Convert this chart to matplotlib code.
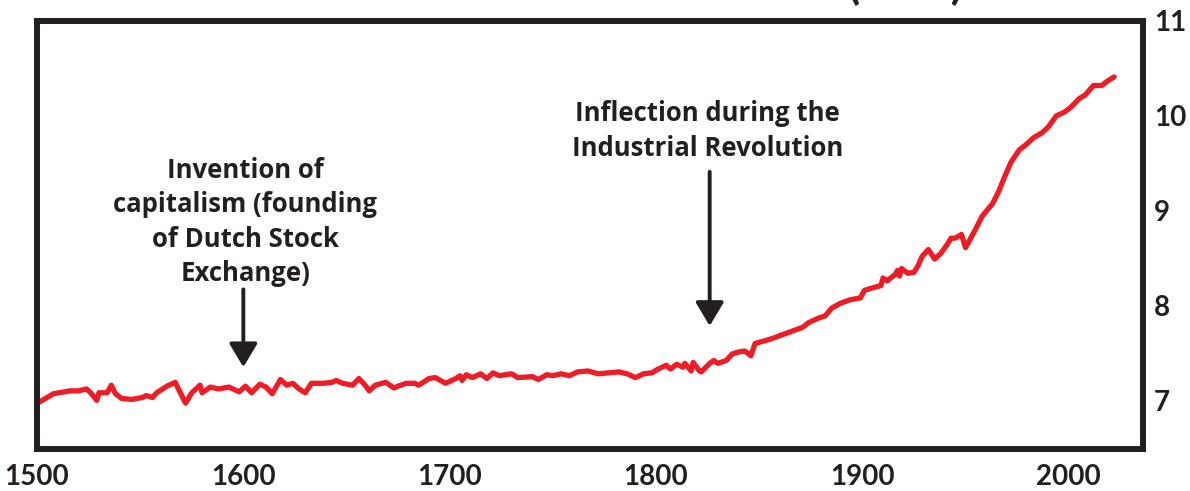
import matplotlib
matplotlib.use("Agg")
import matplotlib.pyplot as plt

# values (log scale series)
years = [1501, 1508, 1516, 1520, 1524, 1526, 1529, 1530, 1534, 1536, 1538, 1541,
         1546, 1551, 1553, 1556, 1558, 1563, 1567, 1569, 1572, 1575, 1579, 1580,
         1584, 1588, 1593, 1598, 1601, 1604, 1608, 1611, 1614, 1618, 1621, 1624,
         1627, 1630, 1633, 1637, 1639, 1643, 1645, 1648, 1653, 1656, 1659, 1661,
         1664, 1669, 1673, 1675, 1679, 1683, 1685, 1690, 1693, 1698, 1703, 1705,
         1706, 1708, 1711, 1715, 1718, 1721, 1724, 1730, 1733, 1740, 1743, 1747,
         1750, 1754, 1758, 1762, 1767, 1772, 1777, 1782, 1786, 1790, 1794, 1798,
         1801, 1805, 1807, 1810, 1813, 1814, 1817, 1818, 1821, 1822, 1826, 1828,
         1830, 1834, 1837, 1840, 1843, 1846, 1848, 1853, 1856, 1861, 1866, 1871,
         1874, 1879, 1882, 1885, 1889, 1894, 1899, 1901, 1904, 1909, 1910, 1912,
         1916, 1917, 1918, 1919, 1922, 1925, 1927, 1929, 1932, 1935, 1938, 1941,
         1943, 1945, 1948, 1950, 1952, 1955, 1958, 1961, 1963, 1966, 1969, 1972,
         1976, 1979, 1983, 1987, 1990, 1994, 1998, 2001, 2005, 2008, 2012, 2016,
         2019, 2022]
values = [6.98, 7.07, 7.10, 7.10, 7.12, 7.08, 7.00, 7.08, 7.08, 7.16, 7.07, 7.02,
          7.01, 7.03, 7.05, 7.03, 7.08, 7.15, 7.19, 7.10, 6.97, 7.08, 7.16, 7.08,
          7.14, 7.12, 7.14, 7.09, 7.15, 7.08, 7.17, 7.14, 7.07, 7.22, 7.16, 7.18,
          7.12, 7.08, 7.18, 7.18, 7.18, 7.19, 7.21, 7.18, 7.16, 7.23, 7.16, 7.10,
          7.16, 7.19, 7.13, 7.15, 7.18, 7.18, 7.16, 7.23, 7.24, 7.18, 7.23, 7.26,
          7.21, 7.27, 7.24, 7.28, 7.23, 7.29, 7.26, 7.28, 7.24, 7.25, 7.22, 7.27,
          7.26, 7.28, 7.26, 7.30, 7.31, 7.28, 7.29, 7.30, 7.28, 7.24, 7.28, 7.29,
          7.33, 7.37, 7.33, 7.38, 7.35, 7.39, 7.31, 7.40, 7.31, 7.30, 7.39, 7.42,
          7.39, 7.42, 7.49, 7.51, 7.52, 7.47, 7.60, 7.63, 7.65, 7.69, 7.73, 7.77,
          7.82, 7.87, 7.89, 7.97, 8.02, 8.06, 8.08, 8.16, 8.18, 8.21, 8.29, 8.26,
          8.33, 8.37, 8.31, 8.39, 8.34, 8.35, 8.42, 8.52, 8.59, 8.49, 8.55, 8.64,
          8.71, 8.71, 8.75, 8.61, 8.69, 8.81, 8.94, 9.02, 9.07, 9.20, 9.36, 9.51,
          9.64, 9.69, 9.77, 9.82, 9.88, 10.00, 10.04, 10.09, 10.18, 10.22, 10.32, 10.32,
          10.37, 10.41]

x_ticks = [1500, 1600, 1700, 1800, 1900, 2000]
y_ticks = [7, 8, 9, 10, 11]

note_capitalism = "Invention of\ncapitalism (founding\nof Dutch Stock\nExchange)"
note_industrial = "Inflection during the\nIndustrial Revolution"

ink = "#231f20"
red = "#ee1c25"
plt.rcParams["font.family"] = ["Lato", "DejaVu Sans"]
plt.rcParams["font.weight"] = "bold"
note_font = ["Open Sans", "DejaVu Sans"]

fig = plt.figure(figsize=(11.9, 4.91), dpi=100)
ax = fig.add_axes([37 / 1190, 42 / 491, 1106 / 1190, 428 / 491])

ax.plot(years, values, color=red, lw=3.8, solid_joinstyle="round", solid_capstyle="round")

ax.set_xlim(1500, 2036)
ax.set_ylim(6.487, 10.969)
ax.set_xticks(x_ticks)
ax.set_yticks(y_ticks)
ax.yaxis.tick_right()
ax.tick_params(axis="x", length=0, pad=11, labelsize=20, labelcolor=ink)
ax.tick_params(axis="y", length=0, pad=8, labelsize=20, labelcolor=ink)
for lab in ax.get_xticklabels() + ax.get_yticklabels():
    lab.set_fontweight("bold")
for sp in ax.spines.values():
    sp.set_linewidth(4.3)
    sp.set_color(ink)

# annotations
ax.text(1601, 8.88, note_capitalism, ha="center", va="center", fontsize=18.5,
        fontweight="bold", color=ink, linespacing=1.36, family=note_font)
ax.annotate("", xy=(1600, 7.35), xytext=(1600, 8.17),
            arrowprops=dict(arrowstyle="-|>,head_length=0.72,head_width=0.43",
                            mutation_scale=20, lw=2.8, color=ink,
                            shrinkA=0, shrinkB=0))
ax.text(1825, 9.84, note_industrial, ha="center", va="center", fontsize=18.5,
        fontweight="bold", color=ink, linespacing=1.36, family=note_font)
ax.annotate("", xy=(1826, 7.785), xytext=(1826, 9.41),
            arrowprops=dict(arrowstyle="-|>,head_length=0.72,head_width=0.43",
                            mutation_scale=20, lw=2.8, color=ink,
                            shrinkA=0, shrinkB=0))

# title sits mostly above the visible canvas
fig.text(905 / 1190, 1 + 1 / 491, "(LOG)", ha="center", va="baseline",
         fontsize=32, fontweight="bold", color=ink)

fig.savefig("out.png", dpi=100)
